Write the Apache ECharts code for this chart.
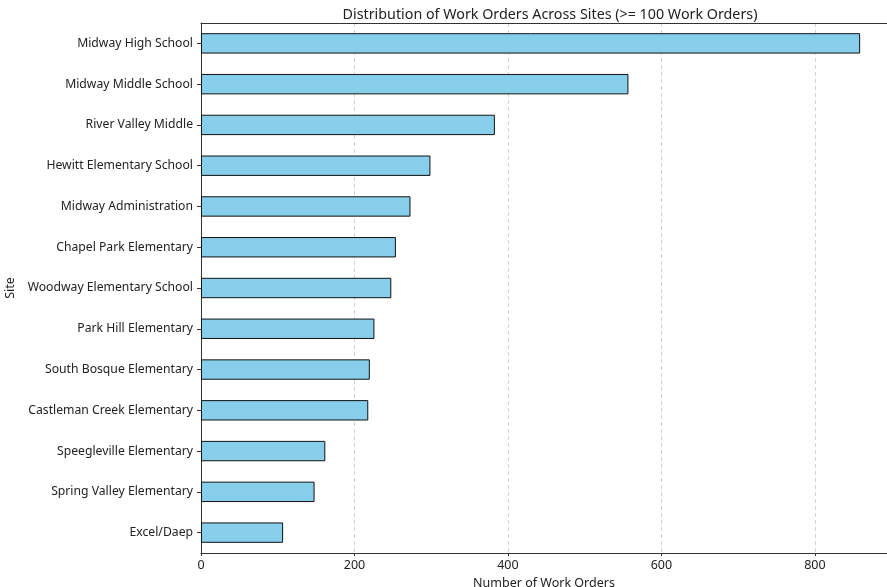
<!DOCTYPE html>
<html>
<head>
<meta charset="utf-8">
<script src="https://cdn.jsdelivr.net/npm/echarts@6/dist/echarts.min.js"></script>
<style>
html,body{margin:0;padding:0;background:#fff;}
#chart{width:887px;height:587px;}
</style>
</head>
<body>
<div id="chart"></div>
<script>
const sites = [
  "Midway High School",
  "Midway Middle School",
  "River Valley Middle",
  "Hewitt Elementary School",
  "Midway Administration",
  "Chapel Park Elementary",
  "Woodway Elementary School",
  "Park Hill Elementary",
  "South Bosque Elementary",
  "Castleman Creek Elementary",
  "Speegleville Elementary",
  "Spring Valley Elementary",
  "Excel/Daep"
];
const workOrders = [859, 557, 383, 299, 273, 254, 248, 226, 220, 218, 162, 148, 107];
const xTicks = [0, 200, 400, 600, 800];

const FONT = "Noto Sans";
const chart = echarts.init(document.getElementById('chart'));
chart.setOption({
  animation: false,
  textStyle: { fontFamily: FONT },
  title: {
    text: "Distribution of Work Orders Across Sites (>= 100 Work Orders)",
    left: 545, top: 3, textAlign: 'center',
    textStyle: { fontFamily: FONT, fontSize: 14.3, fontWeight: 'normal', color: '#222' }
  },
  grid: { left: 201, right: 0, top: 23, bottom: 34, containLabel: false, outerBoundsMode: 'none' },
  xAxis: [{
    type: 'value', min: 0, max: 894, interval: 200,
    name: "Number of Work Orders", nameLocation: 'middle', nameGap: 23,
    nameTextStyle: { fontFamily: FONT, fontSize: 12.5, color: '#222' },
    axisLine: { show: true, lineStyle: { color: '#333', width: 1 } },
    axisTick: { show: true, length: 3, lineStyle: { color: '#333' } },
    axisLabel: { showMaxLabel: false, margin: 6, fontFamily: FONT, fontSize: 12.5, color: '#222',
      formatter: v => xTicks.includes(v) ? String(v) : '' },
    splitLine: { show: true, lineStyle: { type: [4, 3], color: '#c8c8c8', width: 0.8 } }
  }, {
    type: 'value', position: 'top', min: 0, max: 894,
    axisLine: { show: true, onZero: false, lineStyle: { color: '#333', width: 1 } },
    axisTick: { show: false }, axisLabel: { show: false }, splitLine: { show: false }
  }],
  yAxis: {
    type: 'category', data: sites, inverse: true,
    name: "Site", nameLocation: 'middle', nameGap: 180, nameRotate: 90,
    nameTextStyle: { fontFamily: FONT, fontSize: 12.5, color: '#222' },
    axisLine: { show: true, lineStyle: { color: '#333', width: 1 } },
    axisTick: { show: true, alignWithLabel: true, length: 4, lineStyle: { color: '#333' } },
    axisLabel: { margin: 8, fontFamily: FONT, fontSize: 12.2, color: '#222' },
    splitLine: { show: false }
  },
  series: [{
    type: 'bar', data: workOrders, xAxisIndex: 0,
    barWidth: '50%',
    itemStyle: { color: '#87CEEB', borderColor: '#111', borderWidth: 1 }
  }]
});
</script>
</body>
</html>
